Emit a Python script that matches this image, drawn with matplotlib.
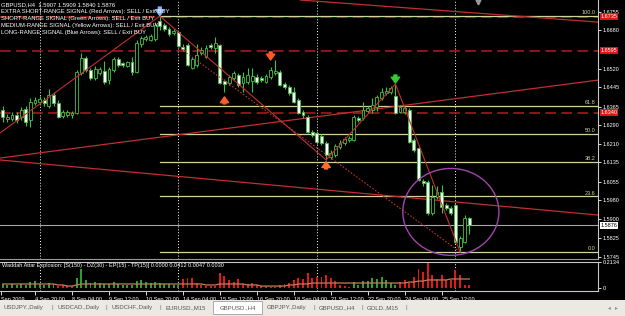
import matplotlib
matplotlib.use("Agg")
import matplotlib.pyplot as plt
import matplotlib.transforms as mtransforms
from matplotlib.patches import Ellipse, Rectangle

plt.rcParams['font.family'] = ['Liberation Sans', 'DejaVu Sans']

# GBPUSD H4, one value per bar (bar 0 = 3 Sep 2009 16:00)
opens = [1.6351, 1.6314, 1.6314, 1.6330, 1.6322, 1.6355, 1.6310, 1.6380, 1.6384, 1.6392,
         1.6367, 1.6413, 1.6380, 1.6326, 1.6330, 1.6330, 1.6338, 1.6503, 1.6565, 1.6516,
         1.6483, 1.6503, 1.6511, 1.6474, 1.6516, 1.6561, 1.6544, 1.6532, 1.6549, 1.6507,
         1.6623, 1.6643, 1.6639, 1.6643, 1.6717, 1.6701, 1.6685, 1.6668, 1.6672, 1.6610,
         1.6619, 1.6524, 1.6536, 1.6586, 1.6569, 1.6619, 1.6606, 1.6619, 1.6470, 1.6462,
         1.6483, 1.6495, 1.6462, 1.6466, 1.6470, 1.6487, 1.6483, 1.6466, 1.6487, 1.6503,
         1.6507, 1.6458, 1.6446, 1.6425, 1.6392, 1.6343, 1.6322, 1.6260, 1.6256, 1.6244,
         1.6215, 1.6157, 1.6165, 1.6198, 1.6215, 1.6227, 1.6227, 1.6318, 1.6318, 1.6347,
         1.6351, 1.6363, 1.6400, 1.6421, 1.6425, 1.6409, 1.6343, 1.6343, 1.6351, 1.6227,
         1.6194, 1.6058, 1.6054, 1.5927, 1.5992, 1.6013, 1.5959, 1.5947, 1.5959, 1.5786,
         1.5807, 1.5907]
highs = [1.6367, 1.6334, 1.6343, 1.6343, 1.6363, 1.6367, 1.6400, 1.6404, 1.6409, 1.6404,
         1.6437, 1.6425, 1.6392, 1.6351, 1.6351, 1.6347, 1.6516, 1.6586, 1.6573, 1.6524,
         1.6532, 1.6528, 1.6553, 1.6528, 1.6569, 1.6569, 1.6549, 1.6553, 1.6569, 1.6639,
         1.6656, 1.6660, 1.6664, 1.6713, 1.6738, 1.6709, 1.6693, 1.6685, 1.6680, 1.6623,
         1.6627, 1.6569, 1.6623, 1.6610, 1.6619, 1.6627, 1.6652, 1.6623, 1.6479, 1.6495,
         1.6511, 1.6503, 1.6507, 1.6524, 1.6524, 1.6499, 1.6491, 1.6499, 1.6528, 1.6557,
         1.6516, 1.6466, 1.6454, 1.6446, 1.6400, 1.6351, 1.6330, 1.6268, 1.6264, 1.6252,
         1.6223, 1.6186, 1.6211, 1.6227, 1.6240, 1.6244, 1.6330, 1.6326, 1.6384, 1.6367,
         1.6400, 1.6413, 1.6442, 1.6446, 1.6450, 1.6458, 1.6371, 1.6367, 1.6359, 1.6235,
         1.6202, 1.6066, 1.6062, 1.6042, 1.6038, 1.6042, 1.5968, 1.5955, 1.5968, 1.5832,
         1.5918, 1.5909]
lows = [1.6301, 1.6301, 1.6305, 1.6297, 1.6310, 1.6285, 1.6281, 1.6371, 1.6371, 1.6367,
        1.6359, 1.6367, 1.6318, 1.6318, 1.6322, 1.6318, 1.6334, 1.6495, 1.6507, 1.6474,
        1.6474, 1.6495, 1.6458, 1.6458, 1.6507, 1.6528, 1.6528, 1.6528, 1.6495, 1.6503,
        1.6610, 1.6635, 1.6635, 1.6635, 1.6680, 1.6676, 1.6656, 1.6660, 1.6610, 1.6594,
        1.6532, 1.6520, 1.6528, 1.6577, 1.6565, 1.6602, 1.6586, 1.6458, 1.6425, 1.6454,
        1.6474, 1.6446, 1.6425, 1.6458, 1.6425, 1.6458, 1.6466, 1.6462, 1.6479, 1.6495,
        1.6450, 1.6437, 1.6413, 1.6380, 1.6334, 1.6318, 1.6256, 1.6240, 1.6211, 1.6207,
        1.6145, 1.6149, 1.6157, 1.6190, 1.6207, 1.6219, 1.6223, 1.6301, 1.6310, 1.6338,
        1.6338, 1.6347, 1.6392, 1.6413, 1.6417, 1.6334, 1.6338, 1.6334, 1.6215, 1.6178,
        1.6058, 1.6038, 1.5918, 1.5918, 1.5984, 1.5927, 1.5939, 1.5918, 1.5803, 1.5766,
        1.5803, 1.5840]
closes = [1.6322, 1.6322, 1.6330, 1.6310, 1.6351, 1.6301, 1.6384, 1.6392, 1.6396, 1.6380,
          1.6413, 1.6380, 1.6322, 1.6343, 1.6343, 1.6338, 1.6507, 1.6565, 1.6516, 1.6483,
          1.6520, 1.6520, 1.6466, 1.6520, 1.6561, 1.6536, 1.6536, 1.6549, 1.6507, 1.6627,
          1.6647, 1.6652, 1.6656, 1.6701, 1.6697, 1.6685, 1.6664, 1.6676, 1.6614, 1.6602,
          1.6536, 1.6561, 1.6577, 1.6598, 1.6606, 1.6610, 1.6627, 1.6462, 1.6458, 1.6487,
          1.6503, 1.6454, 1.6487, 1.6495, 1.6491, 1.6466, 1.6474, 1.6491, 1.6516, 1.6511,
          1.6454, 1.6446, 1.6421, 1.6384, 1.6338, 1.6330, 1.6260, 1.6248, 1.6219, 1.6215,
          1.6165, 1.6174, 1.6202, 1.6215, 1.6231, 1.6235, 1.6322, 1.6310, 1.6351, 1.6359,
          1.6371, 1.6404, 1.6425, 1.6429, 1.6442, 1.6338, 1.6363, 1.6359, 1.6219, 1.6186,
          1.6062, 1.6050, 1.5927, 1.5992, 1.6013, 1.5951, 1.5947, 1.5927, 1.5807, 1.5823,
          1.5906, 1.5876]

# Waddah Attar Explosion histogram, trend (1 green / -1 red), explosion line
wae_values = [0.033, 0.025, 0.033, 0.025, 0.033, 0.025, 0.049, 0.057, 0.033, 0.025,
              0.041, 0.033, 0.016, 0.025, 0.016, 0.016, 0.082, 0.156, 0.066, 0.041,
              0.049, 0.041, 0.033, 0.033, 0.049, 0.033, 0.025, 0.025, 0.025, 0.057,
              0.066, 0.049, 0.041, 0.049, 0.041, 0.033, 0.033, 0.025, 0.025, 0.074,
              0.082, 0.082, 0.041, 0.025, 0.016, 0.016, 0.016, 0.123, 0.099, 0.066,
              0.049, 0.074, 0.033, 0.033, 0.041, 0.025, 0.016, 0.016, 0.008, 0.008,
              0.025, 0.033, 0.041, 0.066, 0.082, 0.074, 0.123, 0.082, 0.090, 0.090,
              0.107, 0.082, 0.057, 0.025, 0.016, 0.008, 0.049, 0.025, 0.057, 0.057,
              0.082, 0.074, 0.090, 0.066, 0.041, 0.025, 0.049, 0.066, 0.041, 0.090,
              0.156, 0.131, 0.205, 0.107, 0.074, 0.107, 0.066, 0.066, 0.148, 0.107,
              0.025, 0.025]
wae_trend = [1, 1, 1, 1, 1, 1, 1, 1, 1, 1,
             1, 1, -1, -1, -1, -1, 1, 1, 1, 1,
             1, 1, 1, 1, 1, 1, 1, 1, 1, 1,
             1, 1, 1, 1, 1, 1, 1, 1, 1, -1,
             -1, -1, -1, -1, -1, -1, -1, -1, -1, -1,
             -1, -1, -1, -1, -1, -1, -1, -1, -1, -1,
             -1, -1, -1, -1, -1, -1, -1, -1, -1, -1,
             -1, -1, -1, -1, -1, -1, 1, 1, 1, 1,
             1, 1, 1, 1, 1, 1, -1, -1, -1, -1,
             -1, -1, -1, -1, -1, -1, -1, -1, -1, -1,
             -1, -1]
wae_explosion = [0.033, 0.033, 0.033, 0.033, 0.033, 0.033, 0.033, 0.033, 0.033, 0.033,
                 0.033, 0.033, 0.025, 0.025, 0.016, 0.016, 0.025, 0.033, 0.033, 0.033,
                 0.033, 0.033, 0.033, 0.033, 0.033, 0.033, 0.033, 0.033, 0.033, 0.033,
                 0.033, 0.033, 0.033, 0.033, 0.033, 0.033, 0.033, 0.033, 0.033, 0.033,
                 0.033, 0.033, 0.033, 0.033, 0.025, 0.025, 0.025, 0.033, 0.033, 0.033,
                 0.033, 0.033, 0.033, 0.025, 0.025, 0.025, 0.016, 0.016, 0.016, 0.016,
                 0.016, 0.016, 0.025, 0.025, 0.033, 0.033, 0.033, 0.041, 0.041, 0.041,
                 0.041, 0.041, 0.041, 0.041, 0.041, 0.041, 0.041, 0.041, 0.041, 0.041,
                 0.041, 0.041, 0.041, 0.041, 0.041, 0.041, 0.041, 0.041, 0.049, 0.049,
                 0.057, 0.057, 0.066, 0.066, 0.066, 0.066, 0.066, 0.074, 0.074, 0.074,
                 0.074, 0.074]

# price scale labels and marked levels
price_ticks = [1.6755, 1.6680, 1.6520, 1.6445, 1.6365, 1.6290, 1.6210,
               1.6135, 1.6055, 1.5980, 1.5900, 1.5825, 1.5745]
dashed_levels = [1.6735, 1.6595, 1.6340]
current_price = 1.5876

# fibonacci retracement from the 10 Sep high to the 25 Sep low
fib_start_bar = 34
fib_levels = [1.6738, 1.6367, 1.6252, 1.6137, 1.5995, 1.5766]
fib_labels = ['100.0', '61.8', '50.0', '38.2', '23.6', '0.0']

# trend lines: (bar, price) anchors
zigzag_bars = [-0.58, 34, 70, 85, 99]
zigzag_prices = [1.6256, 1.6738, 1.6145, 1.6458, 1.5766]
dotted_line = [(38, 1.6610), (99, 1.5766)]
long_lines = [[(-0.58, 1.6153), (128.85, 1.6474)],
              [(-0.58, 1.6145), (128.85, 1.5918)],
              [(64.4, 1.6804), (128.85, 1.6713)]]

# signal arrows: bar, tail price, tip price, colour
arrow_bars = [34, 58, 48, 70, 85]
arrow_tails = [1.6775, 1.6590, 1.6376, 1.6108, 1.6495]
arrow_tips = [1.6740, 1.6557, 1.6405, 1.6138, 1.6462]
arrow_colors = ['#7fb2ff', '#ff5a28', '#ff5a28', '#ff6a30', '#33cc33']

week_starts = [8, 38, 68, 98]
time_ticks = [-0.4, 7, 15, 23, 31, 39, 47, 55, 63, 71, 79, 87, 95]
time_labels = ['Sep 2009', '4 Sep 20:00', '8 Sep 04:00', '9 Sep 12:00', '10 Sep 20:00',
               '14 Sep 04:00', '15 Sep 12:00', '16 Sep 20:00', '18 Sep 04:00',
               '21 Sep 12:00', '22 Sep 20:00', '24 Sep 04:00', '25 Sep 12:00']

header = ['GBPUSD,H4  1.5907 1.5909 1.5840 1.5876',
          'EXTRA SHORT-RANGE SIGNAL (Red Arrows): SELL / Exit BUY',
          'SHORT-RANGE SIGNAL (Green Arrows): SELL / Exit BUY',
          'MEDIUM-RANGE SIGNAL (Yellow Arrows): SELL / Exit BUY',
          'LONG-RANGE SIGNAL (Blue Arrows): SELL / Exit BUY']

tab_names = ['USDJPY.,Daily', 'USDCAD.,Daily', 'USDCHF.,Daily', 'EURUSD.,M15',
             'GBPUSD.,H4', 'GBPJPY.,Daily', 'GBPUSD.,H4', 'GOLD.,M15']

W, H = 625, 316
GREEN = '#3fc23f'
FIB = '#d2d29e'
TL = '#c03030'


def px_box(x0, y0, x1, y1):
    return [x0 / W, 1 - y1 / H, (x1 - x0) / W, (y1 - y0) / H]


fig = plt.figure(figsize=(W / 100, H / 100), dpi=100, facecolor='black')
ax = fig.add_axes(px_box(0, 0, 598, 259), facecolor='black')
ax2 = fig.add_axes(px_box(0, 262, 598, 291), facecolor='black', sharex=ax)
ax.set_xlim(-0.584, 128.85)
ax.set_ylim(1.5737, 1.6804)
ax2.set_ylim(-0.0246, 0.2134)

# candles
n = len(opens)
for i in range(n):
    o, h, l, c = opens[i], highs[i], lows[i], closes[i]
    ax.vlines(i, l, h, color=GREEN, lw=0.8, zorder=3)
    bottom = min(o, c)
    height = max(abs(c - o), 0.00005)
    face = 'white' if c < o else 'black'
    ax.bar(i, height, bottom=bottom, width=0.62, color=face, edgecolor=GREEN,
           linewidth=0.6, zorder=4)

# horizontal levels
for lv in dashed_levels:
    ax.axhline(lv, color='#b41e1e', lw=1.1, linestyle=(0, (7, 3.5)), zorder=2)
ax.axhline(current_price, color='#a8a8a8', lw=0.8, zorder=2)
for lv, lab in zip(fib_levels, fib_labels):
    ax.plot([fib_start_bar, 128.85], [lv, lv], color=FIB, lw=0.9, zorder=2)
    ax.text(128.3, lv + 0.0003, lab, color=FIB, fontsize=4, ha='right', va='bottom')

# trend lines
ax.plot(zigzag_bars, zigzag_prices, color=TL, lw=0.8, zorder=5)
ax.plot([p[0] for p in dotted_line], [p[1] for p in dotted_line], color=TL, lw=0.8,
        linestyle=(0, (1.5, 1.5)), zorder=5)
for ln in long_lines:
    ax.plot([p[0] for p in ln], [p[1] for p in ln], color=TL, lw=0.9, zorder=2)

# week separators
for b in week_starts:
    for a in (ax, ax2):
        a.axvline(b, color='white', lw=0.7, linestyle=(0, (1, 2)), zorder=1)

# circle around the last low
ax.add_patch(Ellipse((97.0, 1.5931), 20.8, 0.0358, fill=False, ec='#a046a8', lw=1.0, zorder=6))

# arrows
for b, t0, t1, col in zip(arrow_bars, arrow_tails, arrow_tips, arrow_colors):
    ax.annotate('', xy=(b, t1), xytext=(b, t0),
                arrowprops=dict(arrowstyle='simple,head_width=1.0,head_length=0.7,tail_width=0.35',
                                color=col, mutation_scale=6, shrinkA=0, shrinkB=0), zorder=7)

# chart shift marker
ax.plot(102.9, 1.6797, marker='v', color='#9a9a9a', ms=3.5, clip_on=False, zorder=8)

# price axis
ax.yaxis.tick_right()
ax.set_yticks(price_ticks)
ax.set_yticklabels(['%.4f' % p for p in price_ticks])
ax.tick_params(axis='y', colors='white', labelsize=4, length=2, width=0.6, pad=1.5)
ax.tick_params(axis='x', bottom=False, labelbottom=False)
yt = mtransforms.blended_transform_factory(ax.transAxes, ax.transData)
for lv in dashed_levels:
    ax.text(1.004, lv, '%.4f' % lv, transform=yt, color='white', fontsize=4, va='center',
            ha='left', bbox=dict(boxstyle='square,pad=0.15', fc='#e01414', ec='none'), zorder=9,
            clip_on=False)
ax.text(1.004, current_price, '%.4f' % current_price, transform=yt, color='black', fontsize=4,
        va='center', ha='left', bbox=dict(boxstyle='square,pad=0.15', fc='white', ec='none'),
        zorder=9, clip_on=False)

for s in ax.spines.values():
    s.set_visible(False)
ax.spines['right'].set_visible(True)
ax.spines['right'].set_color('#c8c8c8')
ax.spines['right'].set_linewidth(0.8)
ax.spines['bottom'].set_visible(True)
ax.spines['bottom'].set_color('#9a9a9a')
ax.spines['bottom'].set_linewidth(0.8)

# header text
for k, line in enumerate(header):
    fig.text(1.5 / W, 1 - (5 + 6.9 * k) / H, line, color='white', fontsize=4.2, va='center')

# indicator window
idx = list(range(n))
cols = ['#2e9e2e' if t > 0 else '#e01818' for t in wae_trend]
ax2.bar(idx, wae_values, width=0.42, color=cols, zorder=3)
ax2.plot(idx, wae_explosion, color='#c0805a', lw=0.9, zorder=4)
ax2.yaxis.tick_right()
ax2.set_yticks([0, 0.2134])
ax2.set_yticklabels(['0', '0.2134'])
ax2.tick_params(axis='y', colors='white', labelsize=4, length=2, width=0.6, pad=1.5)
ax2.set_xticks(time_ticks)
ax2.set_xticklabels(time_labels)
for lab in ax2.get_xticklabels():
    lab.set_ha('left')
ax2.tick_params(axis='x', colors='white', labelsize=4, length=3, width=0.6, pad=1)
for s in ax2.spines.values():
    s.set_visible(False)
for name in ('top', 'right', 'bottom'):
    ax2.spines[name].set_visible(True)
    ax2.spines[name].set_color('#c8c8c8')
    ax2.spines[name].set_linewidth(0.8)
ax2.text(0.003, 0.2134 - 0.025,
         'Waddah Attar Explosion: [S(150) - DZ(30) - EP(15) - TP(15)] 0.0000 0.0412 0.0047 0.0030',
         transform=mtransforms.blended_transform_factory(ax2.transAxes, ax2.transData),
         color='white', fontsize=4, va='center')

# tab strip at the bottom
tab = fig.add_axes(px_box(0, 300, 625, 316))
tab.set_xlim(0, 625)
tab.set_ylim(16, 0)
tab.set_axis_off()
tab.add_patch(Rectangle((0, 0), 625, 16, fc='#ece9e2', ec='none'))
tab.add_patch(Rectangle((213, 1), 49, 13, fc='white', ec='#a0a0a0', lw=0.6))
tab_x = [4, 58, 112, 166, 220, 267, 319, 367]
for x, name in zip(tab_x, tab_names):
    tab.text(x, 7.5, name, color='#555555', fontsize=4.3, va='center')
for x in [52, 106, 160, 313, 361, 405]:
    tab.text(x, 7.5, '|', color='#777777', fontsize=4.5, va='center')
tab.text(608, 7.5, '\u25c2', color='#888888', fontsize=4, va='center', family='DejaVu Sans')
tab.text(615, 7.5, '\u25b8', color='#888888', fontsize=4, va='center', family='DejaVu Sans')

fig.savefig('out.png', dpi=100, facecolor='black')
